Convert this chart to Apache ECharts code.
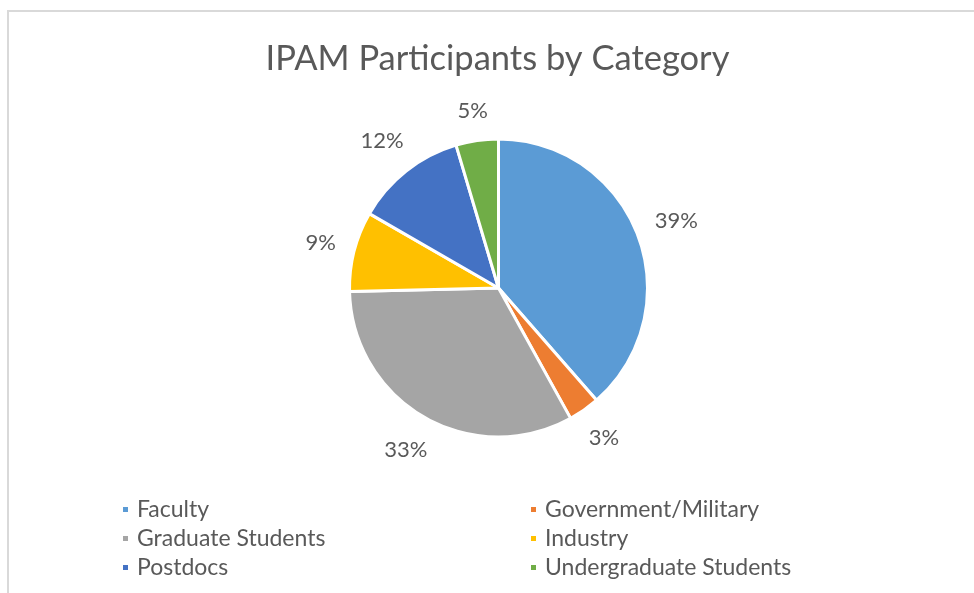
<!DOCTYPE html>
<html>
<head>
<meta charset="utf-8">
<script src="https://cdn.jsdelivr.net/npm/echarts@6/dist/echarts.min.js"></script>
<style>html,body{margin:0;padding:0;background:#fff;}#c{width:974px;height:593px;}</style>
</head>
<body>
<div id="c"></div>
<script>
const titleText = 'IPAM Participants by Category';
const categories = ['Faculty', 'Government/Military', 'Graduate Students', 'Industry', 'Postdocs', 'Undergraduate Students'];
const values = [38.6, 3.4, 32.7, 8.7, 12.1, 4.6];
const colors = ['#5B9BD5', '#ED7D31', '#A5A5A5', '#FFC000', '#4472C4', '#70AD47'];
const leftLegend = ['Faculty', 'Graduate Students', 'Postdocs'];
const rightLegend = ['Government/Military', 'Industry', 'Undergraduate Students'];

const total = values.reduce((a, b) => a + b, 0);
const FONT = 'Lato';
const CX = 498.5, CY = 288, R = 149, GAP = 17;
const chart = echarts.init(document.getElementById('c'));
const legendCommon = {
  orient: 'vertical', icon: 'rect', itemWidth: 7, itemHeight: 7, itemGap: 6, padding: 0,
  textStyle: { color: '#595959', fontSize: 23, fontFamily: FONT, padding: [0, 0, 0, 3] },
  selectedMode: false
};
// mid-angle of each slice (clockwise from 12 o'clock), derived from the data
const midAngles = [];
{
  let cum = 0;
  values.forEach(v => { midAngles.push((cum + v / 2) / total * 2 * Math.PI); cum += v; });
}
chart.setOption({
  animation: false,
  color: colors,
  title: {
    text: titleText, left: 492.5, textAlign: 'center', top: 36,
    textStyle: { color: '#595959', fontSize: 34.5, fontWeight: 'normal', fontFamily: FONT }
  },
  graphic: [{
    type: 'rect', shape: { x: 8, y: 11, width: 1000, height: 1000 },
    style: { fill: 'none', stroke: '#D9D9D9', lineWidth: 2 }, silent: true
  }],
  legend: [
    Object.assign({ data: leftLegend, left: 121, top: 498 }, legendCommon),
    Object.assign({ data: rightLegend, left: 529, top: 498 }, legendCommon)
  ],
  series: [{
    type: 'pie',
    center: [CX, CY],
    radius: R,
    startAngle: 90,
    clockwise: true,
    avoidLabelOverlap: false,
    data: categories.map((n, i) => ({ name: n, value: values[i] })),
    itemStyle: { borderColor: '#fff', borderWidth: 3 },
    label: {
      show: true, position: 'outside',
      formatter: p => Math.round(p.value / total * 100) + '%',
      color: '#595959', fontSize: 22, fontFamily: FONT
    },
    labelLine: { show: false, length: 17, length2: 0 },
    labelLayout: function (p) {
      const a = midAngles[p.dataIndex];
      const s = Math.sin(a), c = Math.cos(a);
      const w = p.labelRect.width, h = p.labelRect.height;
      const ext = Math.abs(s) * w / 2 + Math.abs(c) * h / 2;
      const d = R + GAP + ext;
      return { x: CX + s * d, y: CY - c * d, align: 'center', verticalAlign: 'middle' };
    },
    emphasis: { disabled: true }
  }]
});
</script>
</body>
</html>
